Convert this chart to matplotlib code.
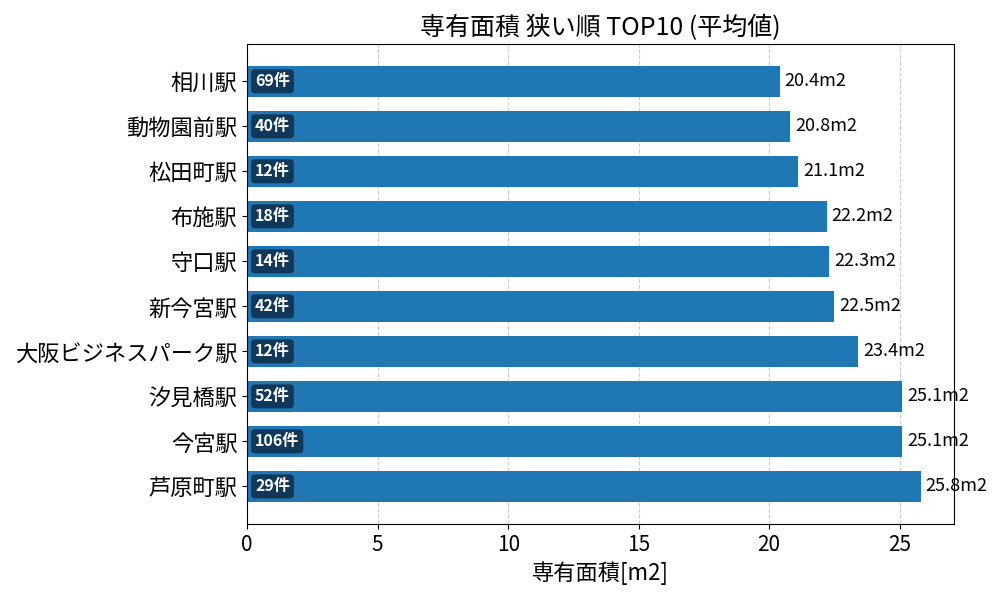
import matplotlib
matplotlib.use('Agg')
import matplotlib.pyplot as plt

plt.rcParams['font.family'] = ['Noto Sans CJK JP', 'DejaVu Sans']

stations = ['相川駅', '動物園前駅', '松田町駅', '布施駅', '守口駅', '新今宮駅',
            '大阪ビジネスパーク駅', '汐見橋駅', '今宮駅', '芦原町駅']
areas = [20.4, 20.8, 21.1, 22.2, 22.3, 22.5, 23.4, 25.1, 25.1, 25.8]
counts = [69, 40, 12, 18, 14, 42, 12, 52, 106, 29]

fig, ax = plt.subplots(figsize=(10, 6), dpi=100)
ypos = list(range(len(stations)))
ax.barh(ypos, areas, height=0.7, color='#1f77b4')
ax.set_yticks(ypos)
ax.set_yticklabels(stations, fontsize=16)
ax.invert_yaxis()
ax.set_xlim(0, max(areas) * 1.05)
ax.tick_params(axis='x', labelsize=15)
ax.grid(axis='x', linestyle='--', color='gray', alpha=0.4)
ax.set_axisbelow(True)

for y, v, c in zip(ypos, areas, counts):
    ax.text(v + 0.2, y, f'{v:.1f}m2', va='center', ha='left', fontsize=13)
    ax.text(0.3, y, f'{c}件', va='center', ha='left', fontsize=11.5,
            fontweight='bold', color='white',
            bbox=dict(boxstyle='round,pad=0.25', facecolor='#10385a',
                      edgecolor='none'))

ax.set_xlabel('専有面積[m2]', fontsize=16)
ax.set_title('専有面積 狭い順 TOP10 (平均値)', fontsize=18)
fig.tight_layout()
fig.savefig('out.png')
